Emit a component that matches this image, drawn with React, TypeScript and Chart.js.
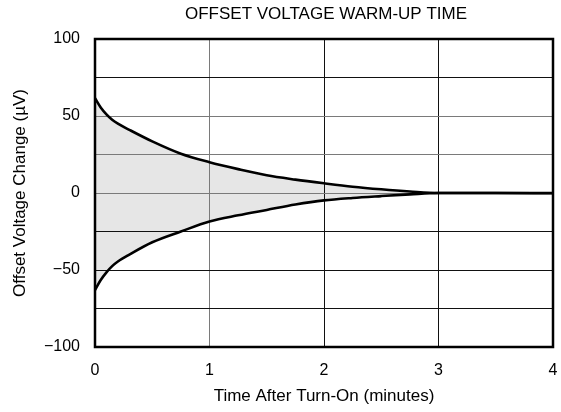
import React, { useEffect, useRef } from "react";
import { Chart, registerables } from "chart.js";

Chart.register(...registerables);

const chartTitle = "OFFSET VOLTAGE WARM-UP TIME";
const xTitle = "Time After Turn-On (minutes)";
const yTitle = "Offset Voltage Change (\u00B5V)";

const timeMin = [0, 0.05, 0.1, 0.15, 0.2, 0.3, 0.5, 0.75, 1, 1.25, 1.5, 1.75, 2, 2.25, 2.5, 2.75, 3, 3.5, 4];
const upperUV = [61.5, 55.5, 51, 47.5, 45, 41, 33.5, 25.5, 20, 15.5, 11.5, 8.7, 6.3, 4.1, 2.4, 1.0, 0, 0, 0];
const lowerUV = [-63, -56.5, -51.5, -47.5, -44.5, -40, -32, -25, -18.5, -14.5, -11, -7.5, -4.8, -3.2, -2.0, -0.9, 0, 0, -0.2];

const xTickValues = [0, 1, 2, 3, 4];
const yTickValues = [100, 50, 0, -50, -100];
const xGray = [1];
const yGray = [50, 25, 0];

const FONT = "'Liberation Sans', Arial, Helvetica, sans-serif";

export default function App() {
  const ref = useRef<HTMLCanvasElement | null>(null);

  useEffect(() => {
    const canvas = ref.current;
    if (!canvas) return;

    const titlePlugin = {
      id: "centeredTitle",
      afterDraw(chart: any) {
        const { ctx, chartArea } = chart;
        ctx.save();
        ctx.fillStyle = "#000";
        ctx.font = `17px ${FONT}`;
        ctx.textAlign = "center";
        ctx.textBaseline = "alphabetic";
        ctx.fillText(chartTitle, (chartArea.left + chartArea.right) / 2 + 2, 18.5);
        ctx.restore();
      },
    };

    const framePlugin = {
      id: "frame",
      afterDatasetsDraw(chart: any) {
        const { ctx, chartArea } = chart;
        ctx.save();
        ctx.strokeStyle = "#000";
        ctx.lineWidth = 2.5;
        ctx.strokeRect(
          chartArea.left,
          chartArea.top,
          chartArea.right - chartArea.left,
          chartArea.bottom - chartArea.top
        );
        ctx.restore();
      },
    };

    const chart = new Chart(canvas, {
      type: "line",
      data: {
        datasets: [
          {
            label: "upper",
            data: timeMin.map((t, i) => ({ x: t, y: upperUV[i] })),
            borderColor: "#000",
            borderWidth: 2.6,
            pointRadius: 0,
            cubicInterpolationMode: "monotone",
            fill: "+1",
            backgroundColor: "#e6e6e6",
          },
          {
            label: "lower",
            data: timeMin.map((t, i) => ({ x: t, y: lowerUV[i] })),
            borderColor: "#000",
            borderWidth: 2.6,
            pointRadius: 0,
            cubicInterpolationMode: "monotone",
            fill: false,
          },
        ],
      },
      options: {
        animation: false,
        responsive: false,
        maintainAspectRatio: false,
        layout: { padding: { top: 39, right: 8, bottom: 0, left: 0 } },
        plugins: {
          legend: { display: false },
          title: { display: false },
          tooltip: { enabled: false },
          filler: { drawTime: "beforeDraw" },
        } as any,
        scales: {
          x: {
            type: "linear",
            min: 0,
            max: 4,
            afterFit: (s: any) => {
              s.height = 65;
              s.paddingLeft = 0;
              s.paddingRight = 0;
            },
            afterBuildTicks: (s: any) => {
              s.ticks = xTickValues.map((v) => ({ value: v }));
            },
            ticks: {
              color: "#000",
              font: { family: FONT, size: 16 },
              padding: 14,
              maxRotation: 0,
              autoSkip: false,
              callback: (v: any) => String(v),
            },
            grid: {
              drawTicks: false,
              lineWidth: 1,
              color: (c: any) => (xGray.includes(c.tick?.value) ? "#7a7a7a" : "#111"),
            },
            border: { display: false },
            title: {
              display: true,
              text: xTitle,
              color: "#000",
              font: { family: FONT, size: 17 },
              padding: { top: 0, bottom: 5 },
            },
          },
          y: {
            type: "linear",
            min: -100,
            max: 100,
            afterFit: (s: any) => {
              s.width = 95;
            },
            ticks: {
              stepSize: 25,
              color: "#000",
              font: { family: FONT, size: 16 },
              padding: 15,
              autoSkip: false,
              callback: (v: any) =>
                yTickValues.includes(v) ? (v < 0 ? "\u2212" + Math.abs(v) : String(v)) : "",
            },
            grid: {
              drawTicks: false,
              lineWidth: 1,
              color: (c: any) => (yGray.includes(c.tick?.value) ? "#7a7a7a" : "#111"),
            },
            border: { display: false },
            title: {
              display: true,
              text: yTitle,
              color: "#000",
              font: { family: FONT, size: 17 },
              padding: { top: 10, bottom: 0 },
            },
          },
        },
      },
      plugins: [titlePlugin, framePlugin],
    } as any);

    return () => chart.destroy();
  }, []);

  return (
    <div style={{ position: "fixed", left: 0, top: 0, width: 561, height: 412, background: "#fff" }}>
      <canvas ref={ref} width={561} height={412} style={{ width: 561, height: 412, display: "block" }} />
    </div>
  );
}
